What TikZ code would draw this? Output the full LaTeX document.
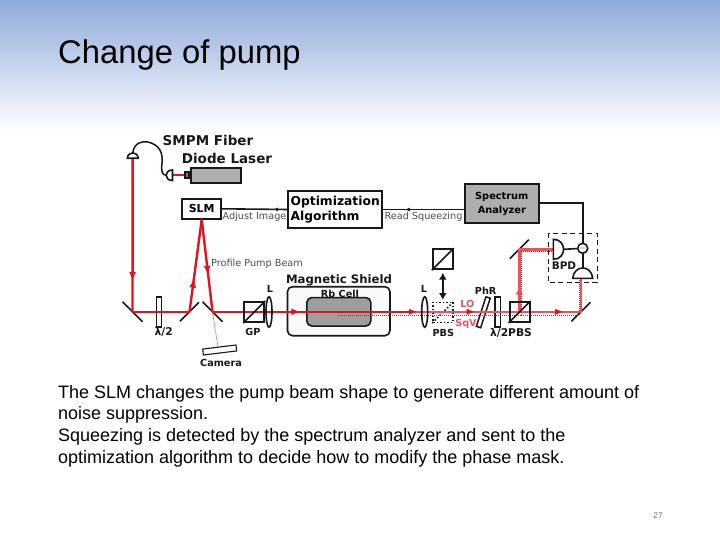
\documentclass[tikz,border=0pt]{standalone}
\usepackage{fontspec}
\setmainfont{Liberation Sans}
\newfontfamily\optfont{DejaVu Sans}
\usetikzlibrary{arrows.meta,decorations.markings,shapes.geometric}
\definecolor{pumpred}{HTML}{E2121F}
\definecolor{lored}{HTML}{F0505C}
\definecolor{boxgrey}{HTML}{AEAEAE}
\definecolor{slidetop}{HTML}{8FAADB}
\definecolor{inkblack}{HTML}{181818}
\tikzset{
  optlabel/.style={font=\optfont\bfseries\fontsize{9.7}{11}\selectfont, text=inkblack, inner sep=0pt},
  smalllabel/.style={font=\optfont\fontsize{9.7}{11}\selectfont, text=black!70, inner sep=0pt},
  biglabel/.style={font=\optfont\bfseries\fontsize{13.5}{16}\selectfont, text=inkblack, inner sep=0pt, align=center},
  optbox/.style={draw=inkblack, line width=2pt, inner sep=0pt},
  cube/.style={optbox, minimum size=20pt},
  mirror/.style={draw=inkblack, line width=1.6pt},
  pumpbeam/.style={draw=pumpred, line width=2.4pt},
  lobeam/.style={draw=lored, line width=2.4pt},
  sqzbeam/.style={draw=pumpred, line width=1pt, densely dotted},
  wire/.style={draw=inkblack, line width=1.6pt},
  midarrow/.style={postaction={decorate}, decoration={markings, mark=at position #1 with {\arrow{Latex[length=9pt,width=7pt]}}}},
  wirearrow/.style={postaction={decorate}, decoration={markings, mark=at position #1 with {\arrow{Latex[length=5pt,width=4pt]}}}}
}
\begin{document}
\begin{tikzpicture}[x=1pt, y=-1pt]
\useasboundingbox (0,0) rectangle (720,540);

% Slide background
\shade[top color=slidetop, bottom color=white] (0,0) rectangle (720,132);

% Slide texts
\node[anchor=base west, inner sep=0pt, font=\fontsize{32.8}{36}\selectfont] (title) at (58,64) {Change of pump};
\node[anchor=north west, inner sep=0pt, align=left, font=\fontsize{18}{21.7}\selectfont] (body) at (58,385)
  {The SLM changes the pump beam shape to generate different amount of\\
   noise suppression.\\
   Squeezing is detected by the spectrum analyzer and sent to the\\
   optimization algorithm to decide how to modify the phase mask.};
\node[font=\fontsize{8.5}{10}\selectfont, text=black!55, inner sep=0pt] (pagenum) at (658,516) {27};

% Boxes
\node[optbox, fill=boxgrey, minimum width=50pt, minimum height=15pt] (laser) at (215.5,175.2) {};
\node[optbox, fill=black!50, minimum width=3.5pt, minimum height=5.5pt, anchor=east] (lasertip) at (laser.west) {};
\node[optbox, minimum width=38.5pt, minimum height=19.5pt, font=\optfont\bfseries\fontsize{11}{13}\selectfont] (slm) at (201.7,208.8) {SLM};
\node[optbox, minimum width=93.5pt, minimum height=37.5pt, align=left, font=\optfont\bfseries\fontsize{12.3}{15.5}\selectfont] (algo) at (335.2,209.5) {Optimization\\Algorithm};
\node[optbox, fill=boxgrey, minimum width=73.5pt, minimum height=39pt, align=center, font=\optfont\bfseries\fontsize{9.8}{14}\selectfont] (analyzer) at (501.8,204) {Spectrum\\Analyzer};

% Magnetic shield and cell
\node[draw=inkblack, line width=1.6pt, fill=black!2, rounded corners=5pt, minimum width=102.5pt, minimum height=49pt] (shield) at (338.7,311.2) {};
\node[draw=inkblack, line width=1.6pt, fill=black!38, rounded corners=5pt, minimum width=64pt, minimum height=28.5pt] (cell) at (338.8,311.8) {};

% Beam path coordinates
\coordinate (fiberout) at (132.7,158.3);
\coordinate (mirrorA) at (132.5,311.8);
\coordinate (mirrorB) at (189.5,311.8);
\coordinate (mirrorC) at (212.5,311.8);
\coordinate (mirrorD) at (581,311.8);
\coordinate (mirrorE) at (519.3,249.3);
\coordinate (cellin) at (306,311.8);
\coordinate (sqzstart) at (338,315);
\coordinate (camerain) at (218,347);

% Detectors
\coordinate (detL) at (553.3,249.3);
\coordinate (detB) at (581,278.3);
\node[draw=inkblack, line width=1.6pt, circle, minimum size=10pt, inner sep=0pt, font=\optfont\bfseries\fontsize{8}{8}\selectfont] (minus) at (582.7,248.3) {$-$};

% Optical elements
\foreach \m in {mirrorA,mirrorC} {
  \draw[mirror] (\m) ++(-10,-10) -- ++(20,20);
}
\foreach \m in {mirrorB,mirrorD,mirrorE} {
  \draw[mirror] (\m) ++(-9.5,9.5) -- ++(19,-19);
}
\node[optbox, line width=1.5pt, minimum width=5pt, minimum height=30pt] (waveA) at (159.2,311.8) {};
\node[optbox, line width=1.5pt, minimum width=5.3pt, minimum height=30pt] (waveB) at (497.7,312) {};
\node[optbox, line width=1.5pt, minimum width=4.5pt, minimum height=31pt, rotate=-18] (phr) at (483.3,312.3) {};
\node[optbox, line width=1.1pt, fill=white, minimum width=33.5pt, minimum height=6pt, rotate=7] (camera) at (219.7,350) {};
\node[cube] (pbsA) at (442.8,259.3) {};
\node[draw=inkblack, line width=1.5pt, dotted, minimum size=20pt, inner sep=0pt] (pbsC) at (443,312.3) {};
\draw[inkblack, line width=1.5pt, dotted] (pbsC.south west) -- (pbsC.north east);

% Beams
\draw[pumpbeam, midarrow=0.8] (fiberout) -- (mirrorA);
\draw[pumpbeam] (mirrorA) -- (mirrorB);
\draw[pumpbeam, midarrow=0.36] (mirrorB) -- (slm.south);
\draw[pumpbeam, midarrow=0.6] (slm.south) -- (mirrorC);
\draw[pumpbeam, midarrow=0.94] (mirrorC) -- (cellin);
\draw[pumpbeam] (cellin) -- (413,311.8);
\draw[lobeam] (413,311.8) -- (mirrorD);
\draw[lobeam, midarrow=0.42] (519.3,311.8) -- (mirrorE);
\draw[lobeam] (mirrorE) -- (detL);
\draw[lobeam] (mirrorD) -- (detB);
\draw[sqzbeam] (sqzstart) -- (521,315);
\draw[sqzbeam] (521,315) -- (521,251);
\draw[sqzbeam] (521,251) -- (553,251);
\draw[sqzbeam] (521,315) -- (579,315) -- (579,278);
\draw[sqzbeam, line width=0.7pt] (mirrorC) -- (camerain);
\foreach \x in {413,470.7,559} {
  \draw[pumpred, -{Latex[length=8pt,width=6pt]}] (\x-4,311.8) -- (\x+4,311.8);
}

% Cubes and lenses over the beams
\node[cube] (gp) at (254.2,312) {};
\node[cube] (pbsB) at (519.5,312) {};
\foreach \c in {gp,pbsA,pbsB} {
  \draw[mirror] (\c.south west) -- (\c.north east);
}
\node[draw=inkblack, line width=1.6pt, ellipse, minimum width=6pt, minimum height=30.5pt, inner sep=0pt] (lensA) at (269,312) {};
\node[draw=inkblack, line width=1.6pt, ellipse, minimum width=6pt, minimum height=30.5pt, inner sep=0pt] (lensB) at (424.7,312) {};

% Detector shapes
\draw[wire, fill=white] (553.3,239.3) .. controls (567,239.3) and (567,259.3) .. (553.3,259.3) -- cycle;
\draw[wire, fill=white] (572.7,278.3) .. controls (574,264.5) and (591.5,264.5) .. (592.7,278.3) -- cycle;
\draw[wire] (563.6,249.3) -- (minus);
\draw[wire] (minus) -- (582.7,267.8);
\draw[inkblack, line width=1.2pt, dash pattern=on 5pt off 3.5pt] (548.3,233.3) rectangle (597.3,282.7);

% Wires
\draw[wire, wirearrow=0.73] (analyzer.west |- algo.east) -- (algo.east);
\draw[wire, wirearrow=0.22] (algo.west) -- (slm.east);
\draw[wire] (analyzer.east) ++(0,-0.7) -| (minus.north);
\draw[pumpbeam] (lasertip.west) -- (171.5,175.2);
\draw[wire, fill=white] (172.5,170) .. controls (164,170) and (164,180.5) .. (172.5,180.5) -- cycle;
\draw[wire, fill=white] (127.3,158.3) .. controls (128,151) and (137.5,151) .. (138.3,158.3) -- cycle;
\draw[inkblack, line width=1.5pt] (132.7,153.3) .. controls (134,142) and (143,141) .. (148,142)
  .. controls (160,145) and (163,153) .. (162,163) .. controls (161,171) and (162,175) .. (166,175.2);
\draw[inkblack, line width=2.2pt, {Latex[length=7pt,width=8pt]}-{Latex[length=7pt,width=8pt]}] (pbsA.south |- 0,272.7) -- (pbsA.south |- 0,300);

% Labels
\node[biglabel] (smpmlabel) at (208,140) {SMPM Fiber};
\node[biglabel] (laserlabel) at (227,158.7) {Diode Laser};
\node[biglabel, font=\optfont\bfseries\fontsize{11.7}{14}\selectfont] (shieldlabel) at (339,280) {Magnetic Shield};
\node[optlabel] (celllabel) at (340,293.5) {Rb Cell};
\node[smalllabel] (adjustlabel) at (254.5,217) {Adjust Image};
\node[smalllabel] (readlabel) at (423.5,216.5) {Read Squeezing};
\node[smalllabel] (profilelabel) at (257,263.7) {Profile Pump Beam};
\node[optlabel, font=\optfont\bfseries\fontsize{10.7}{12}\selectfont] (wavelabelA) at (163.7,331.7) {λ/2};
\node[optlabel] (gplabel) at (253,332) {GP};
\node[optlabel] (lenslabelA) at (270,289) {L};
\node[optlabel] (cameralabel) at (221,362.5) {Camera};
\node[optlabel] (lenslabelB) at (424,289) {L};
\node[optlabel] (pbslabel) at (443.3,332.7) {PBS};
\node[optlabel, text=lored] (lolabel) at (467.3,304) {LO};
\node[optlabel, text=lored] (sqvlabel) at (466,324) {SqV};
\node[optlabel] (phrlabel) at (485.7,291.3) {PhR};
\node[optlabel, font=\optfont\bfseries\fontsize{10.7}{12}\selectfont] (wavelabelB) at (511,332.7) {λ/2PBS};
\node[biglabel, font=\optfont\bfseries\fontsize{10.5}{13}\selectfont] (bpdlabel) at (564,266) {BPD};

\end{tikzpicture}
\end{document}
